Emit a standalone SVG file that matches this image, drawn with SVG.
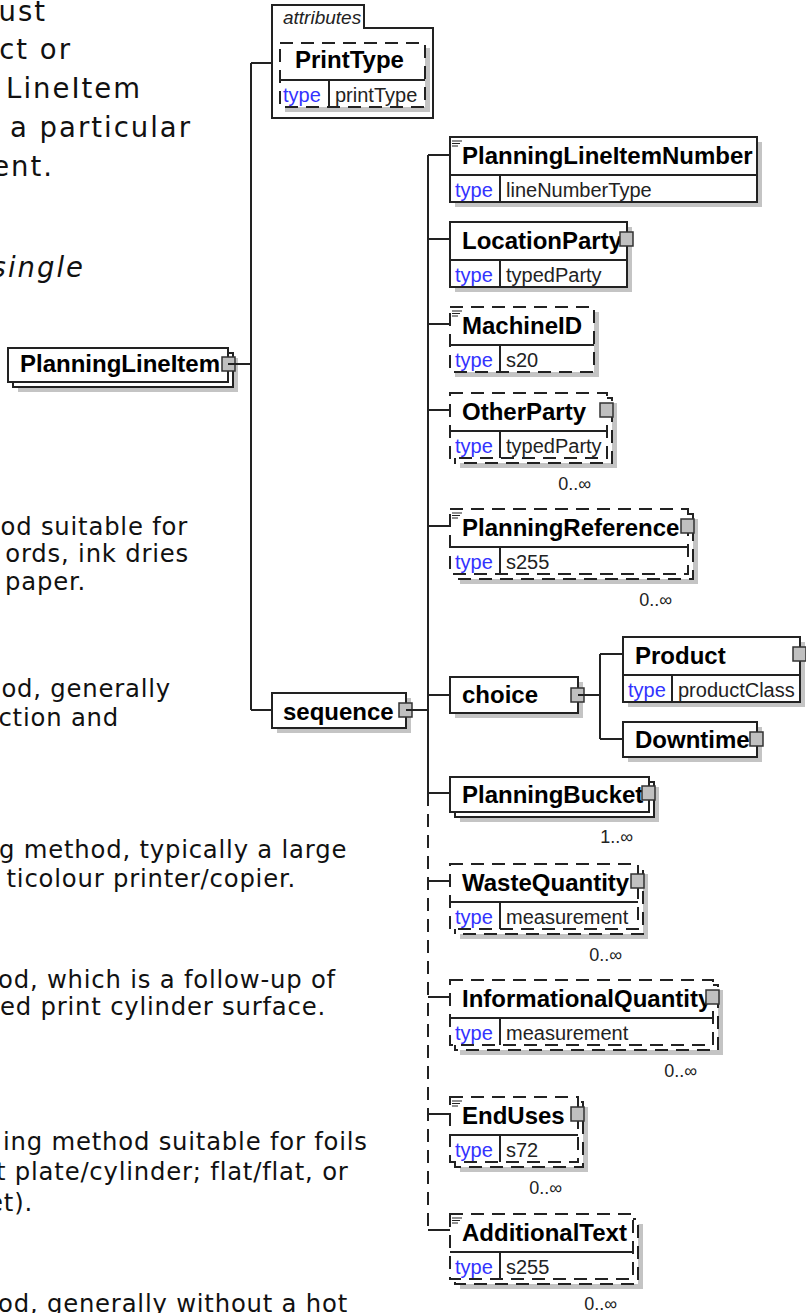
<svg xmlns="http://www.w3.org/2000/svg" width="806" height="1313" viewBox="0 0 806 1313">
<defs><style>
.p1{font-family:"DejaVu Sans",Verdana,sans-serif;font-size:27.5px;letter-spacing:2px;fill:#111;text-anchor:end}
.p2{font-family:"DejaVu Sans",Verdana,sans-serif;font-size:24.3px;letter-spacing:0.8px;fill:#111}
.e{text-anchor:end}
.sh{fill:#c4c4c4}
.bx{fill:#fff;stroke:#222;stroke-width:2}
.d{stroke-dasharray:13 8}
.ln{stroke:#222;stroke-width:2;fill:none}
.nm{font-family:"Liberation Sans",Arial,sans-serif;font-weight:bold;font-size:24px;fill:#000}
.tl{font-family:"Liberation Sans",Arial,sans-serif;font-size:20px;fill:#3333ff}
.tv{font-family:"Liberation Sans",Arial,sans-serif;font-size:20px;fill:#222}
.oc{font-family:"Liberation Sans",Arial,sans-serif;font-size:18px;fill:#222;text-anchor:end}
.at{font-family:"Liberation Sans",Arial,sans-serif;font-size:19px;font-style:italic;fill:#222}
.bt{fill:#c0c0c0;stroke:#333;stroke-width:1.5}
.doc{stroke:#222;stroke-width:1.2;fill:none}
</style></defs>
<rect width="806" height="1313" fill="#fff"/>

<g id="description">
<text class="p1" x="47" y="21">ust</text>
<text class="p1" x="72" y="59">ct or</text>
<text class="p1" x="142" y="98">LineItem</text>
<text class="p1" x="192" y="137">a particular</text>
<text class="p1" x="54" y="176">ent.</text>
<text class="p1" x="85" y="277" font-style="italic">single</text>
<text class="p2 e" x="188" y="535">od suitable for</text>
<text class="p2 e" x="189" y="562">ords, ink dries</text>
<text class="p2 e" x="86" y="590">paper.</text>
<text class="p2 e" x="171" y="697">od, generally</text>
<text class="p2 e" x="119" y="726">ction and</text>
<text class="p2" x="-1" y="858">g method, typically a large</text>
<text class="p2 e" x="296" y="887">ticolour printer/copier.</text>
<text class="p2" x="-2" y="988">od, which is a follow-up of</text>
<text class="p2 e" x="326" y="1015">ed print cylinder surface.</text>
<text class="p2" x="3" y="1150">ing method suitable for foils</text>
<text class="p2" x="-4" y="1180">t plate/cylinder; flat/flat, or</text>
<text class="p2 e" x="33" y="1211">et).</text>
<text class="p2" x="-2" y="1312">od, generally without a hot</text>
</g>

<g id="attributes">
<path class="ln" d="M272,118V5H364V28H433V118Z" fill="#fff"/>
<text class="at" x="283" y="24">attributes</text>
</g>
<g id="PrintType">
<rect class="sh" x="285" y="48" width="145" height="64"/>
<rect class="bx d" x="280" y="43" width="145" height="64"/>
<line class="ln" x1="280" y1="80" x2="425" y2="80"/>
<line class="ln" x1="329" y1="80" x2="329" y2="107"/>
<text class="nm" x="295" y="68">PrintType</text>
<text class="tl" x="283" y="102">type</text>
<text class="tv" x="335" y="102">printType</text>
</g>

<g id="PlanningLineItem">
<rect class="sh" x="18" y="358" width="220" height="34"/>
<rect class="bx" x="13" y="353" width="220" height="34"/>
<rect class="bx" x="8" y="348" width="220" height="34"/>
<text class="nm" x="20" y="372">PlanningLineItem</text>
<rect class="bt" x="222" y="357" width="13" height="14"/>
</g>

<g id="sequence">
<rect class="sh" x="277" y="698" width="134" height="35"/>
<rect class="bx" x="272" y="693" width="134" height="35"/>
<text class="nm" x="283" y="720">sequence</text>
<rect class="bt" x="399" y="703" width="13" height="14"/>
</g>

<g id="PlanningLineItemNumber">
<rect class="sh" x="455" y="142" width="307" height="65"/>
<rect class="bx" x="450" y="137" width="307" height="65"/>
<line class="ln" x1="450" y1="175" x2="757" y2="175"/>
<line class="ln" x1="500" y1="175" x2="500" y2="202"/>
<path class="doc" d="M452,141h10M452,143.5h8M452,146h6"/>
<text class="nm" x="462" y="164">PlanningLineItemNumber</text>
<text class="tl" x="455" y="197">type</text>
<text class="tv" x="506" y="197">lineNumberType</text>
</g>

<g id="LocationParty">
<rect class="sh" x="455" y="227" width="177" height="65"/>
<rect class="bx" x="450" y="222" width="177" height="65"/>
<line class="ln" x1="450" y1="260" x2="627" y2="260"/>
<line class="ln" x1="500" y1="260" x2="500" y2="287"/>
<text class="nm" x="462" y="249">LocationParty</text>
<text class="tl" x="455" y="282">type</text>
<text class="tv" x="506" y="282">typedParty</text>
<rect class="bt" x="620" y="232" width="13" height="14"/>
</g>

<g id="MachineID">
<rect class="sh" x="455" y="312" width="144" height="65"/>
<rect class="bx d" x="450" y="307" width="144" height="65"/>
<line class="ln" x1="450" y1="345" x2="594" y2="345"/>
<line class="ln" x1="500" y1="345" x2="500" y2="372"/>
<path class="doc" d="M452,311h10M452,313.5h8M452,316h6"/>
<text class="nm" x="462" y="334">MachineID</text>
<text class="tl" x="455" y="367">type</text>
<text class="tv" x="506" y="367">s20</text>
</g>

<g id="OtherParty">
<rect class="sh" x="460" y="403" width="157" height="65"/>
<rect class="bx d" x="455" y="398" width="157" height="65"/>
<rect class="bx d" x="450" y="393" width="157" height="65"/>
<line class="ln" x1="450" y1="431" x2="607" y2="431"/>
<line class="ln" x1="500" y1="431" x2="500" y2="458"/>
<text class="nm" x="462" y="420">OtherParty</text>
<text class="tl" x="455" y="453">type</text>
<text class="tv" x="506" y="453">typedParty</text>
<rect class="bt" x="600" y="403" width="13" height="14"/>
<text class="oc" x="591" y="490">0..∞</text>
</g>

<g id="PlanningReference">
<rect class="sh" x="460" y="519" width="238" height="65"/>
<rect class="bx d" x="455" y="514" width="238" height="65"/>
<rect class="bx d" x="450" y="509" width="238" height="65"/>
<line class="ln" x1="450" y1="547" x2="688" y2="547"/>
<line class="ln" x1="500" y1="547" x2="500" y2="574"/>
<path class="doc" d="M452,513h10M452,515.5h8M452,518h6"/>
<text class="nm" x="462" y="536">PlanningReference</text>
<text class="tl" x="455" y="569">type</text>
<text class="tv" x="506" y="569">s255</text>
<rect class="bt" x="681" y="519" width="13" height="14"/>
<text class="oc" x="672" y="606">0..∞</text>
</g>

<g id="choice">
<rect class="sh" x="455" y="682" width="128" height="36"/>
<rect class="bx" x="450" y="677" width="128" height="36"/>
<text class="nm" x="462" y="703">choice</text>
<rect class="bt" x="571" y="688" width="13" height="14"/>
</g>

<g id="Product">
<rect class="sh" x="628" y="642" width="177" height="65"/>
<rect class="bx" x="623" y="637" width="177" height="65"/>
<line class="ln" x1="623" y1="675" x2="800" y2="675"/>
<line class="ln" x1="672" y1="675" x2="672" y2="702"/>
<text class="nm" x="635" y="664">Product</text>
<text class="tl" x="628" y="697">type</text>
<text class="tv" x="678" y="697">productClass</text>
<rect class="bt" x="793" y="647" width="13" height="14"/>
</g>

<g id="Downtime">
<rect class="sh" x="628" y="727" width="134" height="35"/>
<rect class="bx" x="623" y="722" width="134" height="35"/>
<text class="nm" x="635" y="748">Downtime</text>
<rect class="bt" x="750" y="732" width="13" height="14"/>
</g>

<g id="PlanningBucket">
<rect class="sh" x="460" y="787" width="199" height="35"/>
<rect class="bx" x="455" y="782" width="199" height="35"/>
<rect class="bx" x="450" y="777" width="199" height="35"/>
<text class="nm" x="462" y="803">PlanningBucket</text>
<rect class="bt" x="642" y="786" width="13" height="14"/>
<text class="oc" x="633" y="843">1..∞</text>
</g>

<g id="WasteQuantity">
<rect class="sh" x="460" y="874" width="188" height="65"/>
<rect class="bx d" x="455" y="869" width="188" height="65"/>
<rect class="bx d" x="450" y="864" width="188" height="65"/>
<line class="ln" x1="450" y1="902" x2="638" y2="902"/>
<line class="ln" x1="500" y1="902" x2="500" y2="929"/>
<text class="nm" x="462" y="891">WasteQuantity</text>
<text class="tl" x="455" y="924">type</text>
<text class="tv" x="506" y="924">measurement</text>
<rect class="bt" x="631" y="874" width="13" height="14"/>
<text class="oc" x="622" y="961">0..∞</text>
</g>

<g id="InformationalQuantity">
<rect class="sh" x="460" y="990" width="263" height="65"/>
<rect class="bx d" x="455" y="985" width="263" height="65"/>
<rect class="bx d" x="450" y="980" width="263" height="65"/>
<line class="ln" x1="450" y1="1018" x2="713" y2="1018"/>
<line class="ln" x1="500" y1="1018" x2="500" y2="1045"/>
<text class="nm" x="462" y="1007">InformationalQuantity</text>
<text class="tl" x="455" y="1040">type</text>
<text class="tv" x="506" y="1040">measurement</text>
<rect class="bt" x="706" y="990" width="13" height="14"/>
<text class="oc" x="697" y="1077">0..∞</text>
</g>

<g id="EndUses">
<rect class="sh" x="460" y="1107" width="128" height="65"/>
<rect class="bx d" x="455" y="1102" width="128" height="65"/>
<rect class="bx d" x="450" y="1097" width="128" height="65"/>
<line class="ln" x1="450" y1="1135" x2="578" y2="1135"/>
<line class="ln" x1="500" y1="1135" x2="500" y2="1162"/>
<path class="doc" d="M452,1101h10M452,1103.5h8M452,1106h6"/>
<text class="nm" x="462" y="1124">EndUses</text>
<text class="tl" x="455" y="1157">type</text>
<text class="tv" x="506" y="1157">s72</text>
<rect class="bt" x="571" y="1107" width="13" height="14"/>
<text class="oc" x="562" y="1194">0..∞</text>
</g>

<g id="AdditionalText">
<rect class="sh" x="460" y="1224" width="183" height="65"/>
<rect class="bx d" x="455" y="1219" width="183" height="65"/>
<rect class="bx d" x="450" y="1214" width="183" height="65"/>
<line class="ln" x1="450" y1="1252" x2="633" y2="1252"/>
<line class="ln" x1="500" y1="1252" x2="500" y2="1279"/>
<path class="doc" d="M452,1218h10M452,1220.5h8M452,1223h6"/>
<text class="nm" x="462" y="1241">AdditionalText</text>
<text class="tl" x="455" y="1274">type</text>
<text class="tv" x="506" y="1274">s255</text>
<text class="oc" x="617" y="1310">0..∞</text>
</g>

<g id="connectors">
<path class="ln" d="M228,364H251M251,63V710M251,63H272M251,710H272"/>
<path class="ln" d="M406,710H428M428,155V793"/>
<path class="ln d" d="M428,793V1230"/>
<path class="ln" d="M428,155H450M428,239H450M428,324H450M428,410H450M428,526H450M428,695H450M428,793H450M428,881H450M428,997H450M428,1114H450M428,1230H450"/>
<path class="ln" d="M578,695H600M600,654V739M600,654H623M600,739H623"/>
</g>
</svg>
